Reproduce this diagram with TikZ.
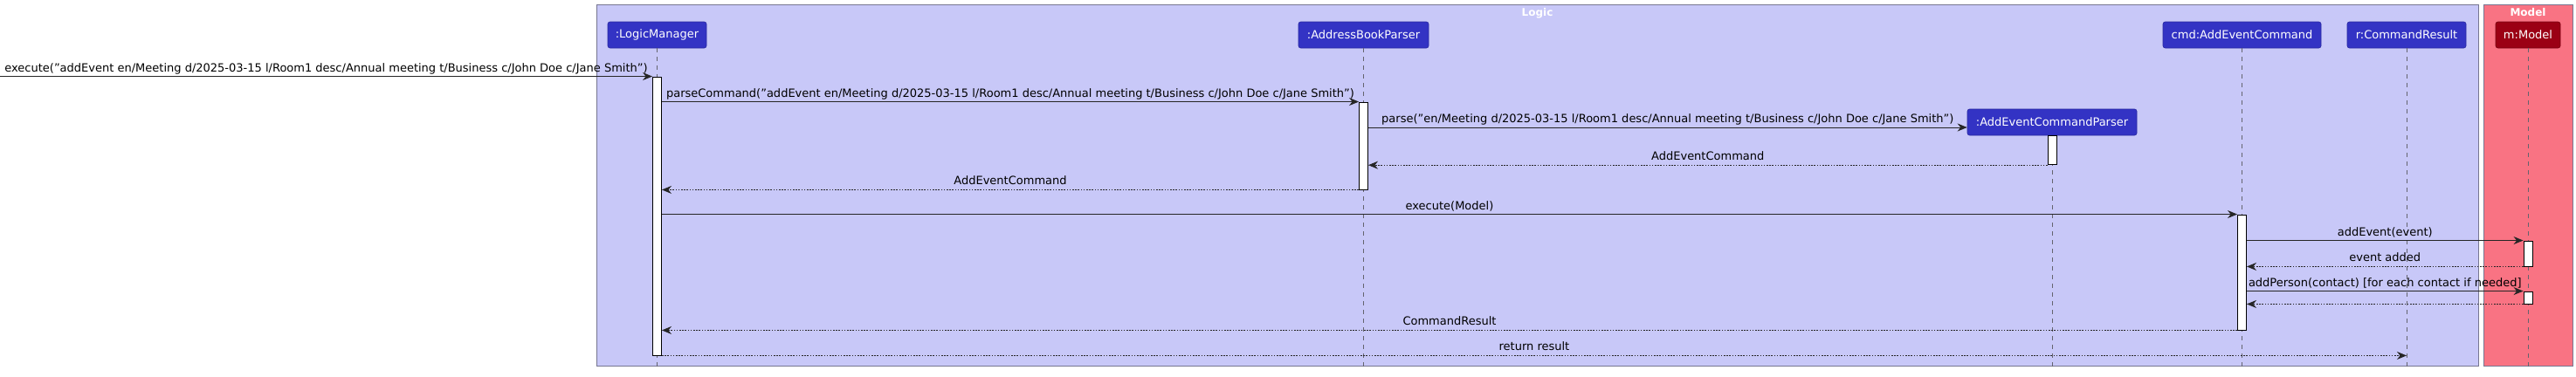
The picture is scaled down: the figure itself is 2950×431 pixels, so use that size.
\documentclass[tikz,border=0pt]{standalone}
\usepackage{fontspec}
\setmainfont{DejaVu Sans}
\usetikzlibrary{arrows.meta}
\definecolor{logicfill}{RGB}{200,200,248}
\definecolor{modelfill}{RGB}{249,115,131}
\definecolor{groupborder}{RGB}{118,118,145}
\definecolor{partfill}{RGB}{51,51,196}
\definecolor{partborder}{RGB}{40,40,160}
\definecolor{mpartfill}{RGB}{155,0,20}
\definecolor{mpartborder}{RGB}{120,0,15}
\definecolor{lifegray}{RGB}{100,100,110}
\tikzset{
  groupbox/.style={draw=groupborder, line width=1pt, inner sep=0pt},
  grouptitle/.style={text=white, font=\fontsize{12}{14}\selectfont\bfseries, anchor=north, inner sep=0pt},
  part/.style={draw=partborder, fill=partfill, rounded corners=2.5pt, text=white,
    font=\fontsize{13}{15}\selectfont, minimum height=30pt, inner xsep=4pt, inner ysep=0pt, line width=0.6pt},
  mpart/.style={part, draw=mpartborder, fill=mpartfill},
  act/.style={draw=black, fill=white, minimum width=10pt, inner sep=0pt, line width=0.9pt},
  life/.style={draw=lifegray, dash pattern=on 5pt off 5pt, line width=0.8pt},
  msg/.style={draw=black!85, line width=1pt, -{Stealth[length=11pt,width=9pt,inset=3.5pt]}},
  ret/.style={msg, dash pattern=on 1.6pt off 1.6pt},
  lbl/.style={font=\fontsize{13}{15}\selectfont, text=black, inner sep=0pt, text height=10pt, text depth=3pt, above=2pt}
}
\begin{document}
\begin{tikzpicture}[x=1pt,y=-1pt]
\useasboundingbox (0,0) rectangle (2950,431);
% groups
\node[groupbox, fill=logicfill, minimum width=2155pt, minimum height=414pt] (logic) at (1760.5,212) {};
\node[groupbox, fill=modelfill, minimum width=102pt, minimum height=414pt] (model) at (2895,212) {};
\node[grouptitle] (logictitle) at ([yshift=-5pt]logic.north) {Logic};
\node[grouptitle] (modeltitle) at ([yshift=-5pt]model.north) {Model};
% participants
\node[part, minimum width=113pt] (lm) at (752.5,40) {:LogicManager};
\node[part, minimum width=149pt] (abp) at (1561.5,40) {:AddressBookParser};
\node[part, minimum width=194pt] (aecp) at (2350,140) {:AddEventCommandParser};
\node[part, minimum width=181pt] (cmd) at (2567.5,40) {cmd:AddEventCommand};
\node[part, minimum width=136pt] (r) at (2756,40) {r:CommandResult};
\node[mpart, minimum width=74pt] (m) at (2895,40) {m:Model};
% lifelines
\foreach \p in {lm,abp,aecp,cmd,r,m}{
  \draw[life] (\p.south) -- (\p.south |- 0,423);
}
% activations
\node[act, minimum height=319pt] (lmA) at (lm |- 0,247.5) {};
\node[act, minimum height=100pt] (abpA) at (abp |- 0,167) {};
\node[act, minimum height=33pt, anchor=north] (aecpA) at (aecp.south) {};
\node[act, minimum height=132pt] (cmdA) at (cmd |- 0,312) {};
\node[act, minimum height=29pt] (mA1) at (m |- 0,290.5) {};
\node[act, minimum height=14pt] (mA2) at (m |- 0,341) {};
% messages
\coordinate (src) at (lmA.north west -| 0,0);
\draw[msg] (src) -- node[lbl, midway] {execute("addEvent en/Meeting d/2025-03-15 l/Room1 desc/Annual meeting t/Business c/John Doe c/Jane Smith")} (lmA.north west);
\draw[msg] (lmA.east |- abpA.north) -- node[lbl, midway] {parseCommand("addEvent en/Meeting d/2025-03-15 l/Room1 desc/Annual meeting t/Business c/John Doe c/Jane Smith")} (abpA.north west);
\draw[msg] (abpA.east |- 0,146) -- node[lbl, midway] {parse("en/Meeting d/2025-03-15 l/Room1 desc/Annual meeting t/Business c/John Doe c/Jane Smith")} (aecp.west |- 0,146);
\draw[ret] (aecpA.south west) -- node[lbl, midway] {AddEventCommand} (abpA.east |- aecpA.south west);
\draw[ret] (abpA.south west) -- node[lbl, midway] {AddEventCommand} (lmA.east |- abpA.south west);
\draw[msg] (lmA.east |- cmdA.north) -- node[lbl, midway] {execute(Model)} (cmdA.north west);
\draw[msg] (cmdA.east |- mA1.north) -- node[lbl, midway] {addEvent(event)} (mA1.north west);
\draw[ret] (mA1.south west) -- node[lbl, midway] {event added} (cmdA.east |- mA1.south west);
\draw[msg] (cmdA.east |- mA2.north) -- node[lbl, midway] {addPerson(contact) [for each contact if needed]} (mA2.north west);
\draw[ret] (mA2.south west) -- (cmdA.east |- mA2.south west);
\draw[ret] (cmdA.south west) -- node[lbl, midway] {CommandResult} (lmA.east |- cmdA.south west);
\coordinate (rEnd) at (r |- lmA.south east);
\draw[ret] (lmA.south east) -- node[lbl, midway] {return result} (rEnd);
\end{tikzpicture}
\end{document}
